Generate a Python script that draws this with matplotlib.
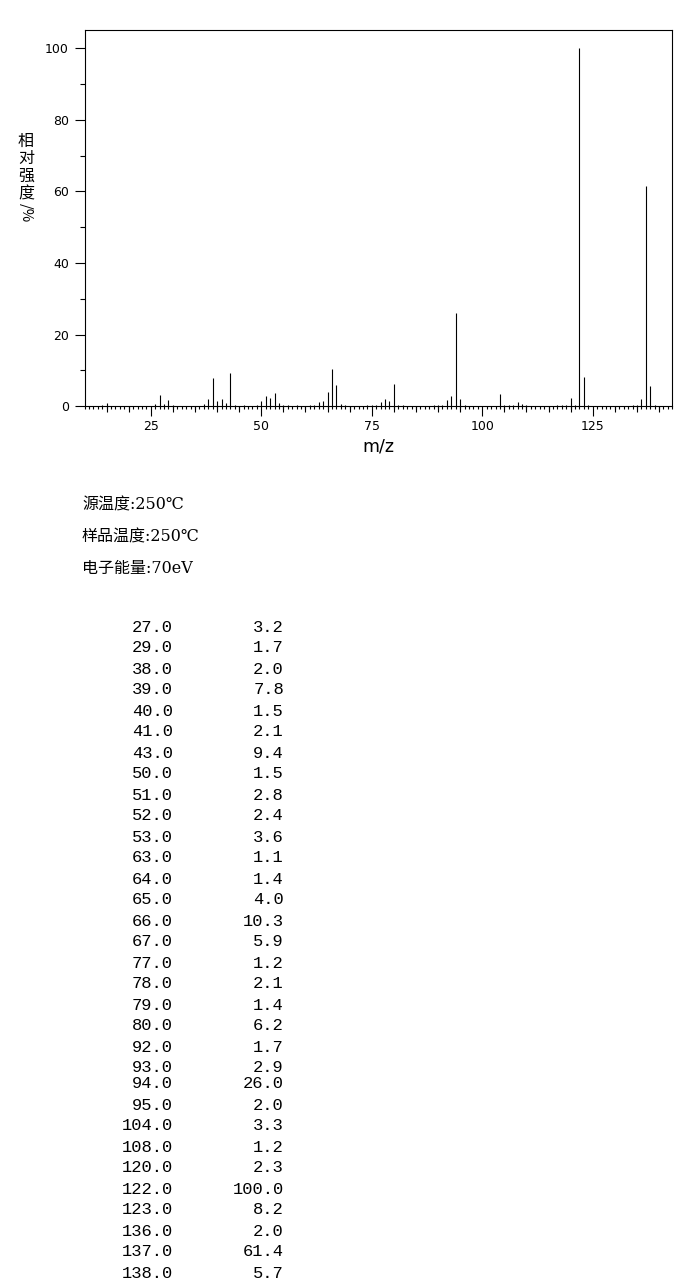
import numpy as np
import matplotlib
matplotlib.use("Agg")
import matplotlib.pyplot as plt
from matplotlib.ticker import MultipleLocator, NullFormatter

# peaks listed in the table
table_mz = [27, 29, 38, 39, 40, 41, 43, 50, 51, 52, 53, 63, 64, 65, 66, 67,
            77, 78, 79, 80, 92, 93, 94, 95, 104, 108, 120, 122, 123, 136, 137, 138]
table_int = [3.2, 1.7, 2.0, 7.8, 1.5, 2.1, 9.4, 1.5, 2.8, 2.4, 3.6, 1.1, 1.4, 4.0, 10.3, 5.9,
             1.2, 2.1, 1.4, 6.2, 1.7, 2.9, 26.0, 2.0, 3.3, 1.2, 2.3, 100.0, 8.2, 2.0, 61.4, 5.7]

# small peaks only seen in the plot (< 1 %)
small_mz = [14, 15, 26, 28, 30, 37, 42, 44, 46, 49, 54, 55, 56, 58, 61, 62, 68, 69,
            74, 75, 76, 81, 82, 89, 90, 91, 96, 97, 105, 106, 107, 109, 110,
            117, 118, 119, 121, 124, 134, 135, 139]
small_int = [0.3, 0.8, 0.6, 0.6, 0.4, 0.6, 0.8, 0.3, 0.3, 0.3, 0.8, 0.3, 0.3, 0.3, 0.3, 0.5, 0.7, 0.3,
             0.3, 0.3, 0.3, 0.5, 0.4, 0.3, 0.3, 0.5, 0.5, 0.2, 0.5, 0.5, 0.5, 0.7, 0.3,
             0.3, 0.5, 0.4, 0.5, 0.5, 0.3, 0.3, 0.5]

info_lines = ["源温度:250℃", "样品温度:250℃", "电子能量:70eV"]
ylabel_chars = ["相", "对", "强", "度"]

W, H = 692, 1280
fig = plt.figure(figsize=(W / 100, H / 100), dpi=100)

def fx(px):
    return px / W

def fy(py):
    return 1 - py / H

L, R, T, B = 84.5, 672.3, 30.3, 406.3
ax = fig.add_axes([fx(L), fy(B), fx(R - L), (B - T) / H])

mz = np.array(table_mz + small_mz)
inten = np.array(table_int + small_int)
ax.vlines(mz, 0, inten, colors="black", linewidth=0.8)

ax.set_xlim(10, 143)
ax.set_ylim(0, 105)

for s in ax.spines.values():
    s.set_linewidth(0.8)

ax.xaxis.set_major_locator(MultipleLocator(25))
ax.xaxis.set_minor_locator(MultipleLocator(1))
ax.yaxis.set_major_locator(MultipleLocator(20))
ax.yaxis.set_minor_locator(MultipleLocator(10))
ax.tick_params(axis="x", which="major", length=7.2, width=0.8, pad=3, labelsize=9)
ax.tick_params(axis="x", which="minor", length=2.3, width=0.8)
ax.tick_params(axis="y", which="major", length=7.2, width=0.8, pad=4, labelsize=9)
ax.tick_params(axis="y", which="minor", length=3.5, width=0.8)

# medium ticks every 5
sec = ax.secondary_xaxis("bottom")
sec.set_xticks([v for v in range(15, 143, 5) if v % 25 != 0])
sec.xaxis.set_major_formatter(NullFormatter())
sec.tick_params(length=4.3, width=0.8)
sec.spines["bottom"].set_visible(False)

ax.set_xlabel("m/z", fontsize=12.5, labelpad=3)

# vertical y label
cjk = ["Noto Sans CJK SC", "DejaVu Sans"]
for i, ch in enumerate(ylabel_chars):
    fig.text(fx(26), fy(141 + i * 17.8), ch, family=cjk, fontsize=11.5,
             ha="center", va="center")
fig.text(fx(26), fy(213), "/%", family=cjk, fontsize=10.5, rotation=-90,
         ha="center", va="center")

# info lines
serif_cjk = ["DejaVu Serif", "Noto Sans CJK SC"]
for i, line in enumerate(info_lines):
    fig.text(fx(82), fy(505 + i * 31.5), line, family=serif_cjk, fontsize=11.5,
             ha="left", va="center")

# peak table (row of 94.0 sits a bit higher, as in the original)
y0 = 627
for i, (m, v) in enumerate(zip(table_mz, table_int)):
    yy = y0 + i * 21 - (5 if i >= 22 else 0)
    fig.text(fx(173), fy(yy), f"{m:.1f}", family="Liberation Mono", fontsize=12.3,
             ha="right", va="center")
    fig.text(fx(284), fy(yy), f"{v:.1f}", family="Liberation Mono", fontsize=12.3,
             ha="right", va="center")

fig.savefig("out.png", dpi=100)
